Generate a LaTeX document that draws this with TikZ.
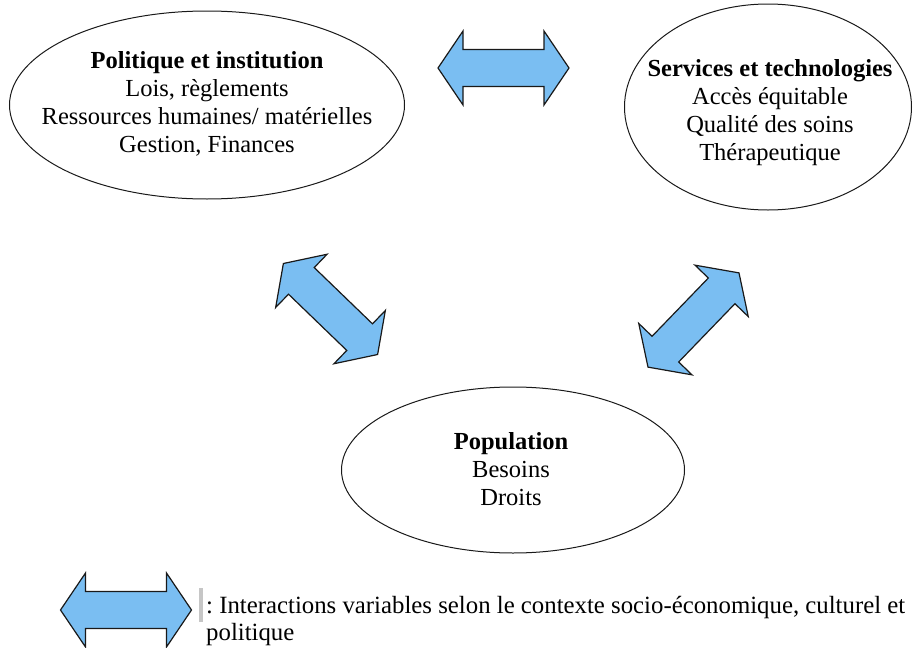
\documentclass[tikz,border=0pt]{standalone}
\usepackage{fontspec}
\setmainfont{Liberation Serif}
\usetikzlibrary{shapes.geometric}
\definecolor{arrowblue}{RGB}{122,190,242}
\definecolor{edgecol}{RGB}{25,25,25}
\frenchspacing
\begin{document}
\begin{tikzpicture}[x=1pt,y=-1pt,
  oval/.style={draw=edgecol, line width=1pt, ellipse, inner sep=0pt},
  lbl/.style={align=center, inner sep=0pt, font=\fontsize{24.5}{28}\selectfont},
  dblarrow/.style={draw=edgecol, fill=arrowblue, line width=1.2pt, line join=miter}]
\useasboundingbox (0,0) rectangle (914,648);
% ellipses
\node[oval, minimum width=395, minimum height=188] (pol) at (207,105) {};
\node[oval, minimum width=287, minimum height=206] (ser) at (768,107) {};
\node[oval, minimum width=343, minimum height=166] (pop) at (513,470) {};
% texts
\node[lbl] (poltxt) at (207,104) {\textbf{Politique et institution}\\Lois, règlements\\Ressources humaines/ matérielles\\Gestion, Finances};
\node[lbl] (sertxt) at (770,113) {\textbf{Services et technologies}\\Accès équitable\\Qualité des soins\\Thérapeutique};
\node[lbl] (poptxt) at (511,469) {\textbf{Population}\\Besoins\\Droits};
% double arrows
\foreach \cx/\cy/\ang in {503.5/68/0, 330.5/309/-44, 693.5/320/46, 126/610/0}{
  \draw[dblarrow, shift={(\cx,\cy)}, rotate=\ang]
    (-65.5,0) -- (-40.5,-37) -- (-40.5,-18.5) -- (40.5,-18.5) -- (40.5,-37)
    -- (65.5,0) -- (40.5,37) -- (40.5,18.5) -- (-40.5,18.5) -- (-40.5,37) -- cycle;
}
% legend
\fill[gray!45] (199,588) rectangle (203,622);
\node[lbl, align=left, anchor=north west, font=\fontsize{24.8}{27.5}\selectfont] (legend) at (206,596)
  {: Interactions variables selon le contexte socio-économique, culturel et\\politique};
\end{tikzpicture}
\end{document}
